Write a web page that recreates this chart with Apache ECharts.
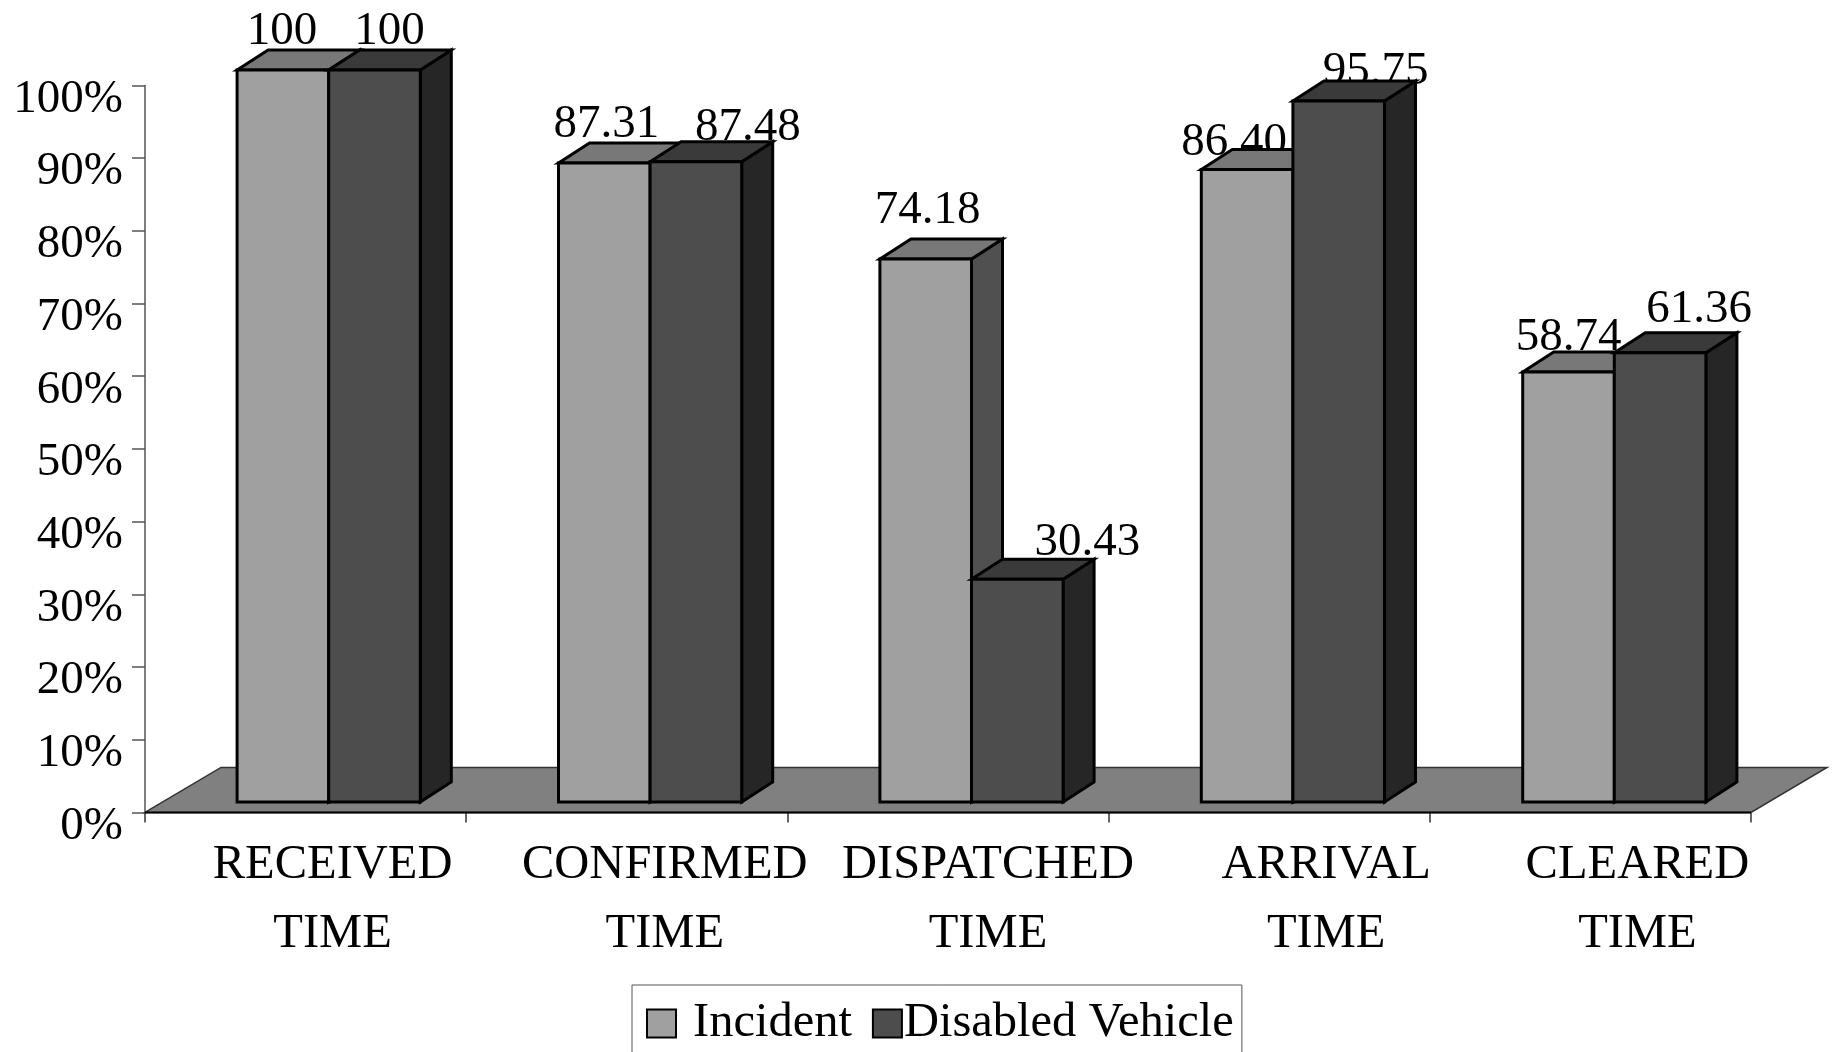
<!DOCTYPE html>
<html><head><meta charset="utf-8">
<style>html,body{margin:0;padding:0;background:#fff}#c{width:1833px;height:1052px}</style>
<script src="https://cdn.jsdelivr.net/npm/echarts@6/dist/echarts.min.js"></script>
</head><body><div id="c"></div>
<script>
const categories = ['RECEIVED\nTIME','CONFIRMED\nTIME','DISPATCHED\nTIME','ARRIVAL\nTIME','CLEARED\nTIME'];
const incident = [100, 87.31, 74.18, 86.40, 58.74];
const disabledVehicle = [100, 87.48, 30.43, 95.75, 61.36];
const yTicks = [0,10,20,30,40,50,60,70,80,90,100];

// layout nudges (pixels), not data
const catLabelNudge = [27, 38, 40, 57, 47];
const incLabelDx = [-1, 2, 2, -13, 0];
const incLabelUp = [-5, -5, 5, -17, -9];
const disLabelDx = [15, 52, 70, 37, 39];
const disLabelUp = [-5, -10, -7, -14, 0];

const FONT = '"Liberation Serif","Times New Roman",serif';
const FS = 47;
const DX = 31, DY = 20;
const FLOOR_DX = 76, FLOOR_DY = 45;
const BAR_RATIO = 0.285;

function boxItem(colors, side) {
  return function (params, api) {
    const c = api.coord([api.value(0), api.value(1)]);
    const base = api.coord([api.value(0), 0]);
    const w = api.size([1, 0])[0] * BAR_RATIO;
    const x0 = side < 0 ? c[0] - w : c[0];
    const x1 = x0 + w, yt = c[1], yb = base[1];
    const st = f => ({fill: f, stroke: '#000', lineWidth: 3, lineJoin: 'miter'});
    return {type: 'group', children: [
      {type: 'polygon', shape: {points: [[x1,yt],[x1+DX,yt-DY],[x1+DX,yb-DY],[x1,yb]]}, style: st(colors.side)},
      {type: 'polygon', shape: {points: [[x0,yt],[x0+DX,yt-DY],[x1+DX,yt-DY],[x1,yt]]}, style: st(colors.top)},
      {type: 'polygon', shape: {points: [[x0,yt],[x1,yt],[x1,yb],[x0,yb]]}, style: st(colors.front)}
    ]};
  };
}
function labelItem(side, dxs, ups) {
  return function (params, api) {
    const i = params.dataIndex, v = api.value(1);
    const c = api.coord([api.value(0), v]);
    const w = api.size([1, 0])[0] * BAR_RATIO;
    return {type: 'text', style: {
      text: v === 100 ? '100' : v.toFixed(2),
      x: c[0] + side * w / 2 + dxs[i], y: c[1] - DY - ups[i],
      font: FS + 'px ' + FONT, fill: '#000', textAlign: 'center', textVerticalAlign: 'bottom'
    }};
  };
}
function pairs(arr) { return arr.map((v, i) => [i, v]); }

const chart = echarts.init(document.getElementById('c'), null, {renderer: 'canvas'});
const incColors = {front: '#a0a0a0', top: '#787878', side: '#505050'};
const disColors = {front: '#4d4d4d', top: '#3a3a3a', side: '#262626'};

chart.setOption({
  backgroundColor: '#fff',
  animation: false,
  legend: {
    left: 632, top: 985, orient: 'horizontal',
    padding: [14, 8, 60, 14],
    borderColor: '#555', borderWidth: 1,
    icon: 'rect', itemWidth: 29, itemHeight: 28, itemGap: 20,
    selectedMode: false,
    textStyle: {fontFamily: FONT, fontSize: 48.5, color: '#000'},
    data: [
      {name: 'Incident', textStyle: {padding: [0, 0, 0, 12]}},
      {name: 'Disabled Vehicle', textStyle: {padding: [0, 0, 0, -3]}}
    ]
  },
  grid: [
    {left: 145, top: 85.4, width: 1606, height: 727, show: false},
    {left: 168, top: 70, width: 1607, height: 732, show: false}
  ],
  xAxis: [
    {gridIndex: 0, type: 'category',
     data: categories.map((c, i) => ({value: c, textStyle: {padding: [0, 0, 0, catLabelNudge[i] * 2]}})),
     axisLine: {show: false},
     axisTick: {show: true, length: 10, lineStyle: {color: '#333', width: 1.5}},
     axisLabel: {interval: 0, margin: 18, fontFamily: FONT, fontSize: 48.5, color: '#000', lineHeight: 69},
     splitLine: {show: false}},
    {gridIndex: 1, type: 'category', data: categories, show: false}
  ],
  yAxis: [
    {gridIndex: 0, type: 'value', min: 0, max: 100, interval: 10,
     axisLine: {show: true, lineStyle: {color: '#555', width: 1.5}},
     axisTick: {show: true, length: 13, lineStyle: {color: '#555', width: 1.5}},
     axisLabel: {margin: 22, fontFamily: FONT, fontSize: FS, color: '#000', verticalAlign: 'top', lineHeight: 28,
       formatter: v => v + '%', customValues: yTicks},
     splitLine: {show: false}},
    {gridIndex: 1, type: 'value', min: 0, max: 100, show: false}
  ],
  series: [
    {type: 'custom', name: 'floor', xAxisIndex: 0, yAxisIndex: 0, z: 1, silent: true, data: [[0, 0]],
     renderItem: function (params, api) {
       const g = params.coordSys, yb = g.y + g.height, xl = g.x, xr = g.x + g.width;
       return {type: 'group', children: [
         {type: 'polygon', shape: {points: [[xl,yb],[xl+FLOOR_DX,yb-FLOOR_DY],[xr+FLOOR_DX,yb-FLOOR_DY],[xr,yb]]},
          style: {fill: '#808080', stroke: '#333', lineWidth: 1.5}},
         {type: 'line', shape: {x1: xl, y1: yb, x2: xr, y2: yb}, style: {stroke: '#000', lineWidth: 2}}
       ]};
     }},
    {type: 'custom', name: 'Incident labels', xAxisIndex: 1, yAxisIndex: 1, z: 2, silent: true, data: pairs(incident),
     renderItem: labelItem(-1, incLabelDx, incLabelUp)},
    {type: 'custom', name: 'Disabled labels', xAxisIndex: 1, yAxisIndex: 1, z: 2, silent: true, data: pairs(disabledVehicle),
     renderItem: labelItem(1, disLabelDx, disLabelUp)},
    {type: 'custom', name: 'Incident', xAxisIndex: 1, yAxisIndex: 1, z: 3, data: pairs(incident),
     itemStyle: {color: incColors.front, borderColor: '#000', borderWidth: 3},
     renderItem: boxItem(incColors, -1)},
    {type: 'custom', name: 'Disabled Vehicle', xAxisIndex: 1, yAxisIndex: 1, z: 4, data: pairs(disabledVehicle),
     itemStyle: {color: disColors.front, borderColor: '#000', borderWidth: 3},
     renderItem: boxItem(disColors, 1)}
  ]
});
</script></body></html>
